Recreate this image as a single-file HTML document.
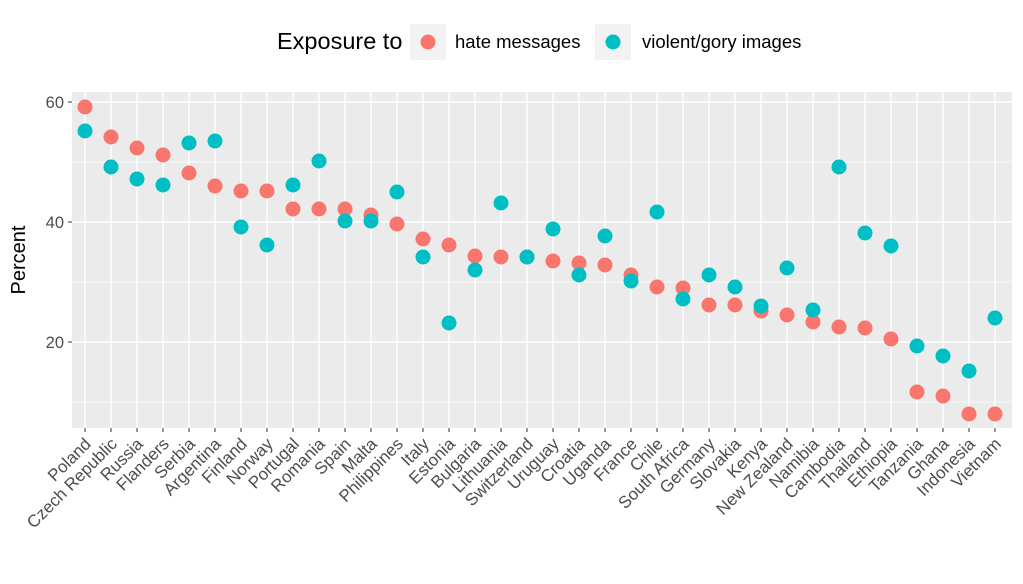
<!DOCTYPE html>
<html><head><meta charset="utf-8"><style>body{margin:0;background:#fff}svg{display:block}text{font-family:"Liberation Sans",sans-serif}</style></head><body>
<svg width="1023" height="584" viewBox="0 0 1023 584" xmlns="http://www.w3.org/2000/svg">
<rect x="0" y="0" width="1023" height="584" fill="#fff"/>
<rect x="72" y="92" width="940" height="336" fill="#EBEBEB"/>
<g stroke="#fff" stroke-width="0.7"><line x1="72" x2="1012" y1="162" y2="162"/><line x1="72" x2="1012" y1="282" y2="282"/><line x1="72" x2="1012" y1="402" y2="402"/></g>
<g stroke="#fff" stroke-width="1.4"><line x1="72" x2="1012" y1="102" y2="102"/><line x1="72" x2="1012" y1="222" y2="222"/><line x1="72" x2="1012" y1="342" y2="342"/>
<line x1="85" x2="85" y1="92" y2="428"/><line x1="111" x2="111" y1="92" y2="428"/><line x1="137" x2="137" y1="92" y2="428"/><line x1="163" x2="163" y1="92" y2="428"/><line x1="189" x2="189" y1="92" y2="428"/><line x1="215" x2="215" y1="92" y2="428"/><line x1="241" x2="241" y1="92" y2="428"/><line x1="267" x2="267" y1="92" y2="428"/><line x1="293" x2="293" y1="92" y2="428"/><line x1="319" x2="319" y1="92" y2="428"/><line x1="345" x2="345" y1="92" y2="428"/><line x1="371" x2="371" y1="92" y2="428"/><line x1="397" x2="397" y1="92" y2="428"/><line x1="423" x2="423" y1="92" y2="428"/><line x1="449" x2="449" y1="92" y2="428"/><line x1="475" x2="475" y1="92" y2="428"/><line x1="501" x2="501" y1="92" y2="428"/><line x1="527" x2="527" y1="92" y2="428"/><line x1="553" x2="553" y1="92" y2="428"/><line x1="579" x2="579" y1="92" y2="428"/><line x1="605" x2="605" y1="92" y2="428"/><line x1="631" x2="631" y1="92" y2="428"/><line x1="657" x2="657" y1="92" y2="428"/><line x1="683" x2="683" y1="92" y2="428"/><line x1="709" x2="709" y1="92" y2="428"/><line x1="735" x2="735" y1="92" y2="428"/><line x1="761" x2="761" y1="92" y2="428"/><line x1="787" x2="787" y1="92" y2="428"/><line x1="813" x2="813" y1="92" y2="428"/><line x1="839" x2="839" y1="92" y2="428"/><line x1="865" x2="865" y1="92" y2="428"/><line x1="891" x2="891" y1="92" y2="428"/><line x1="917" x2="917" y1="92" y2="428"/><line x1="943" x2="943" y1="92" y2="428"/><line x1="969" x2="969" y1="92" y2="428"/><line x1="995" x2="995" y1="92" y2="428"/>
</g>
<g fill="#4D4D4D" font-size="16.5" text-anchor="end"><text x="64" y="108">60</text><text x="64" y="228">40</text><text x="64" y="348">20</text></g>
<g stroke="#333" stroke-width="1"><line x1="68" x2="72" y1="102" y2="102"/><line x1="68" x2="72" y1="222" y2="222"/><line x1="68" x2="72" y1="342" y2="342"/></g>
<text transform="translate(25,260) rotate(-90)" font-size="20" text-anchor="middle" fill="#000">Percent</text>
<g fill="#F8766D">
<circle cx="85" cy="107" r="7.5"/><circle cx="111" cy="137" r="7.5"/><circle cx="137" cy="148" r="7.5"/><circle cx="163" cy="155" r="7.5"/><circle cx="189" cy="173" r="7.5"/><circle cx="215" cy="186" r="7.5"/><circle cx="241" cy="191" r="7.5"/><circle cx="267" cy="191" r="7.5"/><circle cx="293" cy="209" r="7.5"/><circle cx="319" cy="209" r="7.5"/><circle cx="345" cy="209" r="7.5"/><circle cx="371" cy="215" r="7.5"/><circle cx="397" cy="224" r="7.5"/><circle cx="423" cy="239" r="7.5"/><circle cx="449" cy="245" r="7.5"/><circle cx="475" cy="256" r="7.5"/><circle cx="501" cy="257" r="7.5"/><circle cx="527" cy="257" r="7.5"/><circle cx="553" cy="261" r="7.5"/><circle cx="579" cy="263" r="7.5"/><circle cx="605" cy="265" r="7.5"/><circle cx="631" cy="275" r="7.5"/><circle cx="657" cy="287" r="7.5"/><circle cx="683" cy="288" r="7.5"/><circle cx="709" cy="305" r="7.5"/><circle cx="735" cy="305" r="7.5"/><circle cx="761" cy="311" r="7.5"/><circle cx="787" cy="315" r="7.5"/><circle cx="813" cy="322" r="7.5"/><circle cx="839" cy="327" r="7.5"/><circle cx="865" cy="328" r="7.5"/><circle cx="891" cy="339" r="7.5"/><circle cx="917" cy="392" r="7.5"/><circle cx="943" cy="396" r="7.5"/><circle cx="969" cy="414" r="7.5"/><circle cx="995" cy="414" r="7.5"/>
</g>
<g fill="#00BFC4">
<circle cx="85" cy="131" r="7.5"/><circle cx="111" cy="167" r="7.5"/><circle cx="137" cy="179" r="7.5"/><circle cx="163" cy="185" r="7.5"/><circle cx="189" cy="143" r="7.5"/><circle cx="215" cy="141" r="7.5"/><circle cx="241" cy="227" r="7.5"/><circle cx="267" cy="245" r="7.5"/><circle cx="293" cy="185" r="7.5"/><circle cx="319" cy="161" r="7.5"/><circle cx="345" cy="221" r="7.5"/><circle cx="371" cy="221" r="7.5"/><circle cx="397" cy="192" r="7.5"/><circle cx="423" cy="257" r="7.5"/><circle cx="449" cy="323" r="7.5"/><circle cx="475" cy="270" r="7.5"/><circle cx="501" cy="203" r="7.5"/><circle cx="527" cy="257" r="7.5"/><circle cx="553" cy="229" r="7.5"/><circle cx="579" cy="275" r="7.5"/><circle cx="605" cy="236" r="7.5"/><circle cx="631" cy="281" r="7.5"/><circle cx="657" cy="212" r="7.5"/><circle cx="683" cy="299" r="7.5"/><circle cx="709" cy="275" r="7.5"/><circle cx="735" cy="287" r="7.5"/><circle cx="761" cy="306" r="7.5"/><circle cx="787" cy="268" r="7.5"/><circle cx="813" cy="310" r="7.5"/><circle cx="839" cy="167" r="7.5"/><circle cx="865" cy="233" r="7.5"/><circle cx="891" cy="246" r="7.5"/><circle cx="917" cy="346" r="7.5"/><circle cx="943" cy="356" r="7.5"/><circle cx="969" cy="371" r="7.5"/><circle cx="995" cy="318" r="7.5"/>
</g>
<g stroke="#333" stroke-width="1">
<line x1="85" x2="85" y1="428" y2="432"/><line x1="111" x2="111" y1="428" y2="432"/><line x1="137" x2="137" y1="428" y2="432"/><line x1="163" x2="163" y1="428" y2="432"/><line x1="189" x2="189" y1="428" y2="432"/><line x1="215" x2="215" y1="428" y2="432"/><line x1="241" x2="241" y1="428" y2="432"/><line x1="267" x2="267" y1="428" y2="432"/><line x1="293" x2="293" y1="428" y2="432"/><line x1="319" x2="319" y1="428" y2="432"/><line x1="345" x2="345" y1="428" y2="432"/><line x1="371" x2="371" y1="428" y2="432"/><line x1="397" x2="397" y1="428" y2="432"/><line x1="423" x2="423" y1="428" y2="432"/><line x1="449" x2="449" y1="428" y2="432"/><line x1="475" x2="475" y1="428" y2="432"/><line x1="501" x2="501" y1="428" y2="432"/><line x1="527" x2="527" y1="428" y2="432"/><line x1="553" x2="553" y1="428" y2="432"/><line x1="579" x2="579" y1="428" y2="432"/><line x1="605" x2="605" y1="428" y2="432"/><line x1="631" x2="631" y1="428" y2="432"/><line x1="657" x2="657" y1="428" y2="432"/><line x1="683" x2="683" y1="428" y2="432"/><line x1="709" x2="709" y1="428" y2="432"/><line x1="735" x2="735" y1="428" y2="432"/><line x1="761" x2="761" y1="428" y2="432"/><line x1="787" x2="787" y1="428" y2="432"/><line x1="813" x2="813" y1="428" y2="432"/><line x1="839" x2="839" y1="428" y2="432"/><line x1="865" x2="865" y1="428" y2="432"/><line x1="891" x2="891" y1="428" y2="432"/><line x1="917" x2="917" y1="428" y2="432"/><line x1="943" x2="943" y1="428" y2="432"/><line x1="969" x2="969" y1="428" y2="432"/><line x1="995" x2="995" y1="428" y2="432"/>
</g>
<g fill="#4D4D4D" font-size="17" text-anchor="end">
<text transform="translate(92,445) rotate(-45)">Poland</text>
<text transform="translate(118,445) rotate(-45)">Czech Republic</text>
<text transform="translate(144,445) rotate(-45)">Russia</text>
<text transform="translate(170,445) rotate(-45)">Flanders</text>
<text transform="translate(196,445) rotate(-45)">Serbia</text>
<text transform="translate(222,445) rotate(-45)">Argentina</text>
<text transform="translate(248,445) rotate(-45)">Finland</text>
<text transform="translate(274,445) rotate(-45)">Norway</text>
<text transform="translate(300,445) rotate(-45)">Portugal</text>
<text transform="translate(326,445) rotate(-45)">Romania</text>
<text transform="translate(352,445) rotate(-45)">Spain</text>
<text transform="translate(378,445) rotate(-45)">Malta</text>
<text transform="translate(404,445) rotate(-45)">Philippines</text>
<text transform="translate(430,445) rotate(-45)">Italy</text>
<text transform="translate(456,445) rotate(-45)">Estonia</text>
<text transform="translate(482,445) rotate(-45)">Bulgaria</text>
<text transform="translate(508,445) rotate(-45)">Lithuania</text>
<text transform="translate(534,445) rotate(-45)">Switzerland</text>
<text transform="translate(560,445) rotate(-45)">Uruguay</text>
<text transform="translate(586,445) rotate(-45)">Croatia</text>
<text transform="translate(612,445) rotate(-45)">Uganda</text>
<text transform="translate(638,445) rotate(-45)">France</text>
<text transform="translate(664,445) rotate(-45)">Chile</text>
<text transform="translate(690,445) rotate(-45)">South Africa</text>
<text transform="translate(716,445) rotate(-45)">Germany</text>
<text transform="translate(742,445) rotate(-45)">Slovakia</text>
<text transform="translate(768,445) rotate(-45)">Kenya</text>
<text transform="translate(794,445) rotate(-45)">New Zealand</text>
<text transform="translate(820,445) rotate(-45)">Namibia</text>
<text transform="translate(846,445) rotate(-45)">Cambodia</text>
<text transform="translate(872,445) rotate(-45)">Thailand</text>
<text transform="translate(898,445) rotate(-45)">Ethiopia</text>
<text transform="translate(924,445) rotate(-45)">Tanzania</text>
<text transform="translate(950,445) rotate(-45)">Ghana</text>
<text transform="translate(976,445) rotate(-45)">Indonesia</text>
<text transform="translate(1002,445) rotate(-45)">Vietnam</text>
</g>
<text x="277" y="49" font-size="23.5" fill="#000">Exposure to</text>
<rect x="410" y="24" width="36" height="36" fill="#F2F2F2"/><circle cx="428" cy="42" r="7.5" fill="#F8766D"/>
<text x="455" y="48" font-size="18.5" fill="#000">hate messages</text>
<rect x="595" y="24" width="36" height="36" fill="#F2F2F2"/><circle cx="613" cy="42" r="7.5" fill="#00BFC4"/>
<text x="642" y="48" font-size="18.5" fill="#000">violent/gory images</text>
</svg>
</body></html>
